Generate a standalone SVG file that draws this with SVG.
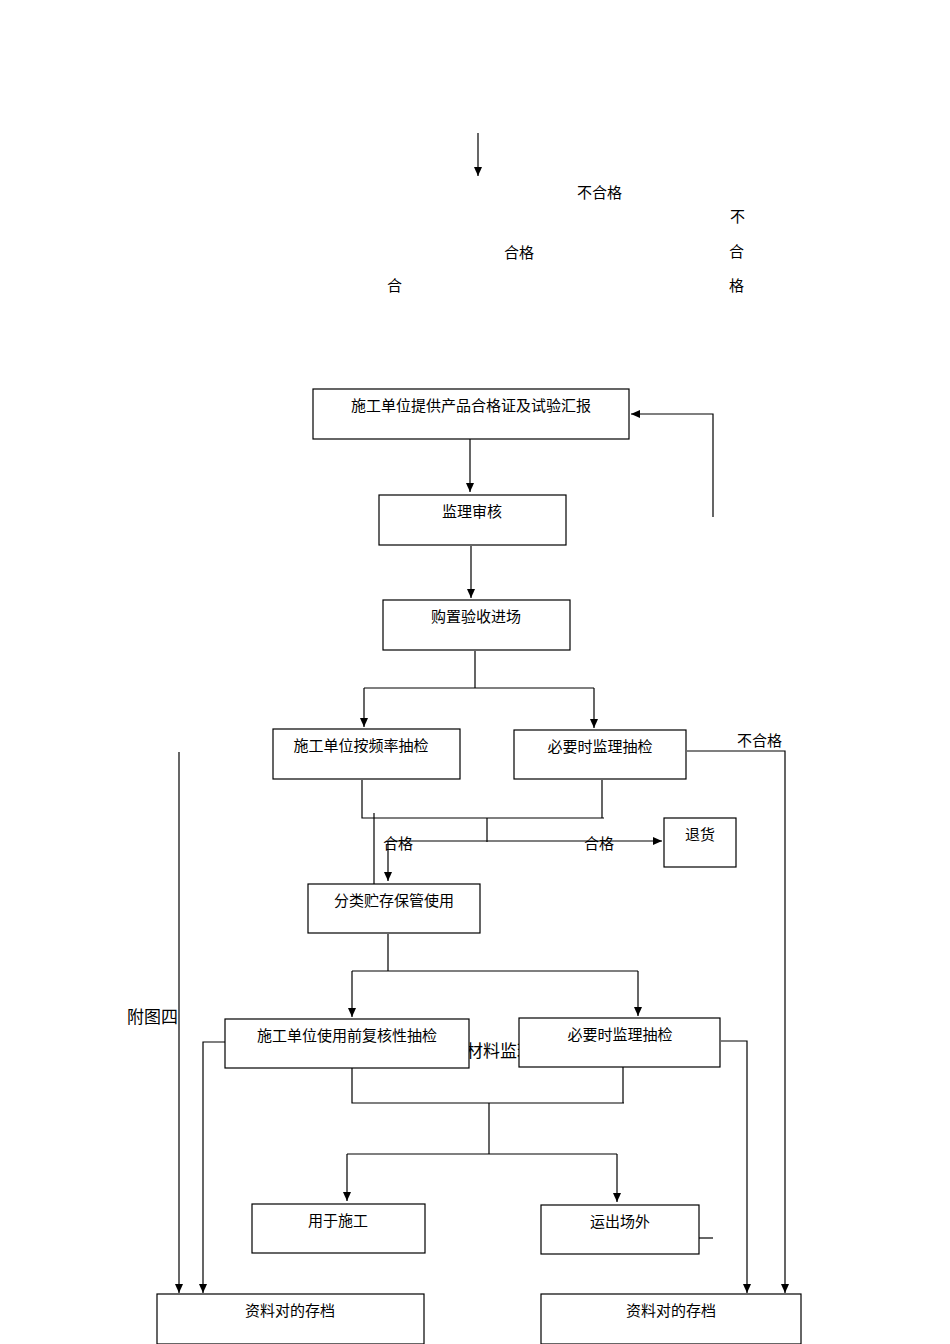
<svg xmlns="http://www.w3.org/2000/svg" width="950" height="1344" viewBox="0 0 950 1344">
<style>
.b{fill:#fff;stroke:#000;stroke-width:1.2}
.t{font-family:"Liberation Serif","Noto Sans CJK SC",serif;font-size:15px;fill:#000;text-anchor:middle}
.s{font-family:"Liberation Sans","Noto Sans CJK SC",sans-serif;font-size:15px;fill:#000}
.l{fill:none;stroke:#000;stroke-width:1.2}
</style>
<defs><marker id="a" markerWidth="10" markerHeight="10" refX="9" refY="5" orient="auto" markerUnits="userSpaceOnUse"><path d="M0,1 L9,5 L0,9Z" fill="#000"/></marker></defs>
<rect width="950" height="1344" fill="#fff"/>
<g id="labels">
<text class="s" x="577" y="198">不合格</text>
<text class="s" x="730" y="222">不</text>
<text class="s" x="504" y="258">合格</text>
<text class="s" x="729" y="257">合</text>
<text class="s" x="387" y="291">合</text>
<text class="s" x="729" y="291">格</text>
<text class="s" x="737" y="746">不合格</text>
<text class="s" x="383" y="849">合格</text>
<text class="s" x="584" y="849">合格</text>
<text class="s" x="127" y="1023" style="font-size:17px">附图四</text>
<text class="s" x="466" y="1057" style="font-size:17px">材料监理</text>
</g>
<g id="connectors">
<path class="l" d="M478,133 V176" marker-end="url(#a)"/>
<path class="l" d="M470,439 V492" marker-end="url(#a)"/>
<path class="l" d="M471,546 V598" marker-end="url(#a)"/>
<path class="l" d="M713,517 V414 H631" marker-end="url(#a)"/>
<path class="l" d="M475,651 V688 M364,688 H594"/>
<path class="l" d="M364,688 V727" marker-end="url(#a)"/>
<path class="l" d="M594,688 V728" marker-end="url(#a)"/>
<path class="l" d="M362,780 V818 H604 M602,780 V818 M487,818 V842"/>
<path class="l" d="M374,813 V884"/>
<path class="l" d="M388,841 H662" marker-end="url(#a)"/>
<path class="l" d="M388,841 V881" marker-end="url(#a)"/>
<path class="l" d="M687,751 H785 V1293" marker-end="url(#a)"/>
<path class="l" d="M179,752 V1293" marker-end="url(#a)"/>
<path class="l" d="M388,934 V971 M352,971 H638"/>
<path class="l" d="M352,971 V1017" marker-end="url(#a)"/>
<path class="l" d="M638,971 V1016" marker-end="url(#a)"/>
<path class="l" d="M228,1042 H203 V1293" marker-end="url(#a)"/>
<path class="l" d="M721,1041 H747 V1293" marker-end="url(#a)"/>
<path class="l" d="M352,1068 V1103 H624 M623,1065 V1103 M489,1103 V1154 H617 M347,1154 H489"/>
<path class="l" d="M347,1154 V1201" marker-end="url(#a)"/>
<path class="l" d="M617,1154 V1202" marker-end="url(#a)"/>
<path class="l" d="M699,1238 H713"/>
</g>
<g id="n1"><rect class="b" x="313" y="389" width="316" height="50"/><text class="t" x="471" y="411">施工单位提供产品合格证及试验汇报</text></g>
<g id="n2"><rect class="b" x="379" y="495" width="187" height="50"/><text class="t" x="472" y="517">监理审核</text></g>
<g id="n3"><rect class="b" x="383" y="600" width="187" height="50"/><text class="t" x="476" y="622">购置验收进场</text></g>
<g id="n4"><rect class="b" x="273" y="729" width="187" height="50"/><text class="t" x="361" y="751">施工单位按频率抽检</text></g>
<g id="n5"><rect class="b" x="514" y="730" width="172" height="49"/><text class="t" x="600" y="752">必要时监理抽检</text></g>
<g id="n6"><rect class="b" x="664" y="818" width="72" height="49"/><text class="t" x="700" y="840">退货</text></g>
<g id="n7"><rect class="b" x="308" y="884" width="172" height="49"/><text class="t" x="394" y="906">分类贮存保管使用</text></g>
<g id="n8"><rect class="b" x="225" y="1019" width="244" height="49"/><text class="t" x="347" y="1041">施工单位使用前复核性抽检</text></g>
<g id="n9"><rect class="b" x="519" y="1018" width="201" height="49"/><text class="t" x="620" y="1040">必要时监理抽检</text></g>
<g id="n10"><rect class="b" x="252" y="1204" width="173" height="49"/><text class="t" x="338" y="1226">用于施工</text></g>
<g id="n11"><rect class="b" x="541" y="1205" width="158" height="49"/><text class="t" x="620" y="1227">运出场外</text></g>
<g id="n12"><rect class="b" x="157" y="1294" width="267" height="50"/><text class="t" x="290" y="1316">资料对的存档</text></g>
<g id="n13"><rect class="b" x="541" y="1294" width="260" height="50"/><text class="t" x="671" y="1316">资料对的存档</text></g>
</svg>
